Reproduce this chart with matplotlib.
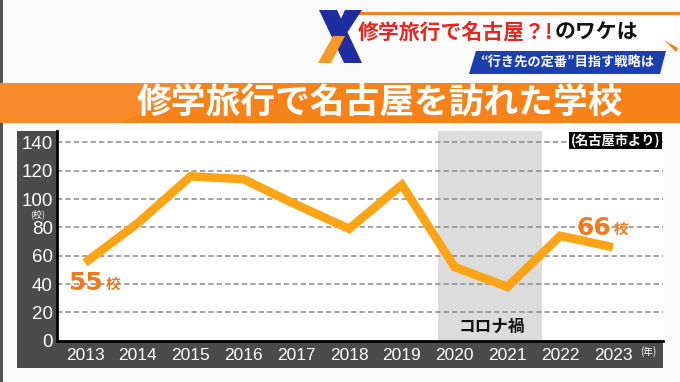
import matplotlib
matplotlib.use("Agg")
import matplotlib.pyplot as plt
from matplotlib.patches import Rectangle, Polygon
from matplotlib import font_manager

years = [2013, 2014, 2015, 2016, 2017, 2018, 2019, 2020, 2021, 2022, 2023]
schools = [55, 83, 116, 114, 96, 79, 110, 52, 38, 74, 66]
yticks = [0, 20, 40, 60, 80, 100, 120, 140]
covid_span = (2019.69, 2021.66)

title = "修学旅行で名古屋を訪れた学校"
head_red = "修学旅行で名古屋？!"
head_black = "のワケは"
sub_head = "“行き先の定番”目指す戦略は"
source = "(名古屋市より)"
covid_label = "コロナ禍"
first_val, last_val = "55", "66"
unit = "校"
year_unit = "(年)"

JP = ["Noto Sans CJK JP", "DejaVu Sans"]
names = {f.name for f in font_manager.fontManager.ttflist}
NUM = "Liberation Sans Narrow" if "Liberation Sans Narrow" in names else "Liberation Sans"
plt.rcParams["font.family"] = JP

W, H = 680, 382
fig = plt.figure(figsize=(6.8, 3.82), dpi=100)
fig.patch.set_facecolor("#fbfbfb")


def fx(x):
    return x / W


def fy(y):
    return 1 - y / H


def rect(x0, y0, x1, y1, z=-1, **kw):
    fig.add_artist(Rectangle((fx(x0), fy(y1)), fx(x1 - x0), (y1 - y0) / H,
                             transform=fig.transFigure, zorder=z, **kw))


def poly(pts, z=-1, **kw):
    fig.add_artist(Polygon([(fx(x), fy(y)) for x, y in pts], closed=True,
                           transform=fig.transFigure, zorder=z, **kw))


# frame
rect(0, 0, 3, 382, color="#555555", lw=0)

# orange banner
rect(0, 83, 680, 123, color="#f7821a", lw=0)
poly([(0, 83), (200, 83), (120, 123), (0, 123)], color="#f99138", lw=0, alpha=0.6)
fig.text(fx(380), fy(103), title, color="white", fontsize=25, fontweight="bold",
         ha="center", va="center", family=JP)

# header box
rect(355, 12, 680, 14.5, color="#f7821a", lw=0)
rect(355, 14.5, 675, 48, color="white", lw=0)
t_red = fig.text(fx(358), fy(32), head_red, color="#e8261f", fontsize=15, fontweight="bold",
                 ha="left", va="center", family=JP)
fig.canvas.draw()
bb = t_red.get_window_extent()
fig.text(bb.x1 / W + 0.002, fy(32), head_black, color="#111111", fontsize=15, fontweight="bold",
         ha="left", va="center", family=JP)
poly([(476, 51), (666, 51), (660, 74), (469, 74)], color="#1c3fb0", lw=0)
fig.text(fx(567), fy(62.5), sub_head, color="white", fontsize=9.5, fontweight="bold",
         ha="center", va="center", family=JP)
poly([(664, 40), (678, 48), (676, 52)], color="#f7821a", lw=0)

# X logo
poly([(319, 10), (337, 10), (362, 63), (344, 63)], color="#1f2d9e", lw=0)
poly([(345, 10), (362, 10), (345, 36), (333, 36)], color="#1f2d9e", lw=0)
poly([(333, 36), (345, 36), (331, 63), (318, 63)], color="#f59a2a", lw=0)

# dark panel
rect(17, 131, 663, 368, color="#4b4b4b", lw=0)

ax_l, ax_r, ax_t, ax_b = 57, 663, 131, 340.7
ax = fig.add_axes([fx(ax_l), fy(ax_b), fx(ax_r - ax_l), (ax_b - ax_t) / H])
ax.set_zorder(5)
ax.set_facecolor("white")
x0 = 2013 + (ax_l - 85) / 52.8
x1 = 2013 + (ax_r - 85) / 52.8
ax.set_xlim(x0, x1)
ax.set_ylim(0, (ax_b - ax_t) / 1.417)

ax.axvspan(covid_span[0], covid_span[1], color="#dcdcdc", lw=0, zorder=0)
for v in yticks[1:]:
    ax.axhline(v, color="#8a8a8a", lw=1.1, ls=(0, (3.5, 2)), zorder=1)
ax.plot(years, schools, color="#fba516", lw=6.2, solid_joinstyle="miter",
        solid_capstyle="butt", zorder=3)

for s in ["top", "right"]:
    ax.spines[s].set_visible(False)
ax.spines["left"].set_color("black")
ax.spines["left"].set_linewidth(2)
ax.spines["bottom"].set_color("black")
ax.spines["bottom"].set_linewidth(2)

ax.set_yticks(yticks)
ax.set_yticklabels([str(v) for v in yticks], color="white", fontsize=13.5, family=NUM)
ax.set_xticks(years)
ax.set_xticklabels([str(y) for y in years], color="white", fontsize=12.5, family=NUM)
ax.tick_params(axis="both", length=0)
ax.tick_params(axis="y", pad=3)
ax.tick_params(axis="x", pad=5)


def value_label(xpix, ypix, num):
    t = fig.text(fx(xpix), fy(ypix), num, color="#f07a1c", fontsize=18, fontweight="bold",
                 ha="left", va="center", family="DejaVu Sans", zorder=10)
    fig.canvas.draw()
    b = t.get_window_extent()
    fig.text(b.x1 / W + 3 / W, fy(ypix + 1), unit, color="#f07a1c", fontsize=10.5,
             fontweight="bold", ha="left", va="center", family=JP, zorder=10)


value_label(68, 283, first_val)
value_label(576, 228, last_val)

ax.text(2020.7, 9.5, covid_label, color="#111111", fontsize=12, fontweight="bold",
        ha="center", va="center", family=JP)
ax.text(2023.9, 141.2, source, color="white", fontsize=9.5, fontweight="bold",
        ha="right", va="center", family=JP,
        bbox=dict(boxstyle="square,pad=0.12", fc="black", ec="none"))

fig.text(fx(38), fy(214), "(校)", color="white", fontsize=6.5, ha="center",
         va="center", family=JP)
fig.text(fx(648), fy(352), year_unit, color="white", fontsize=7, ha="center",
         va="center", family=JP)

fig.savefig("out.png", dpi=100, facecolor=fig.get_facecolor())
